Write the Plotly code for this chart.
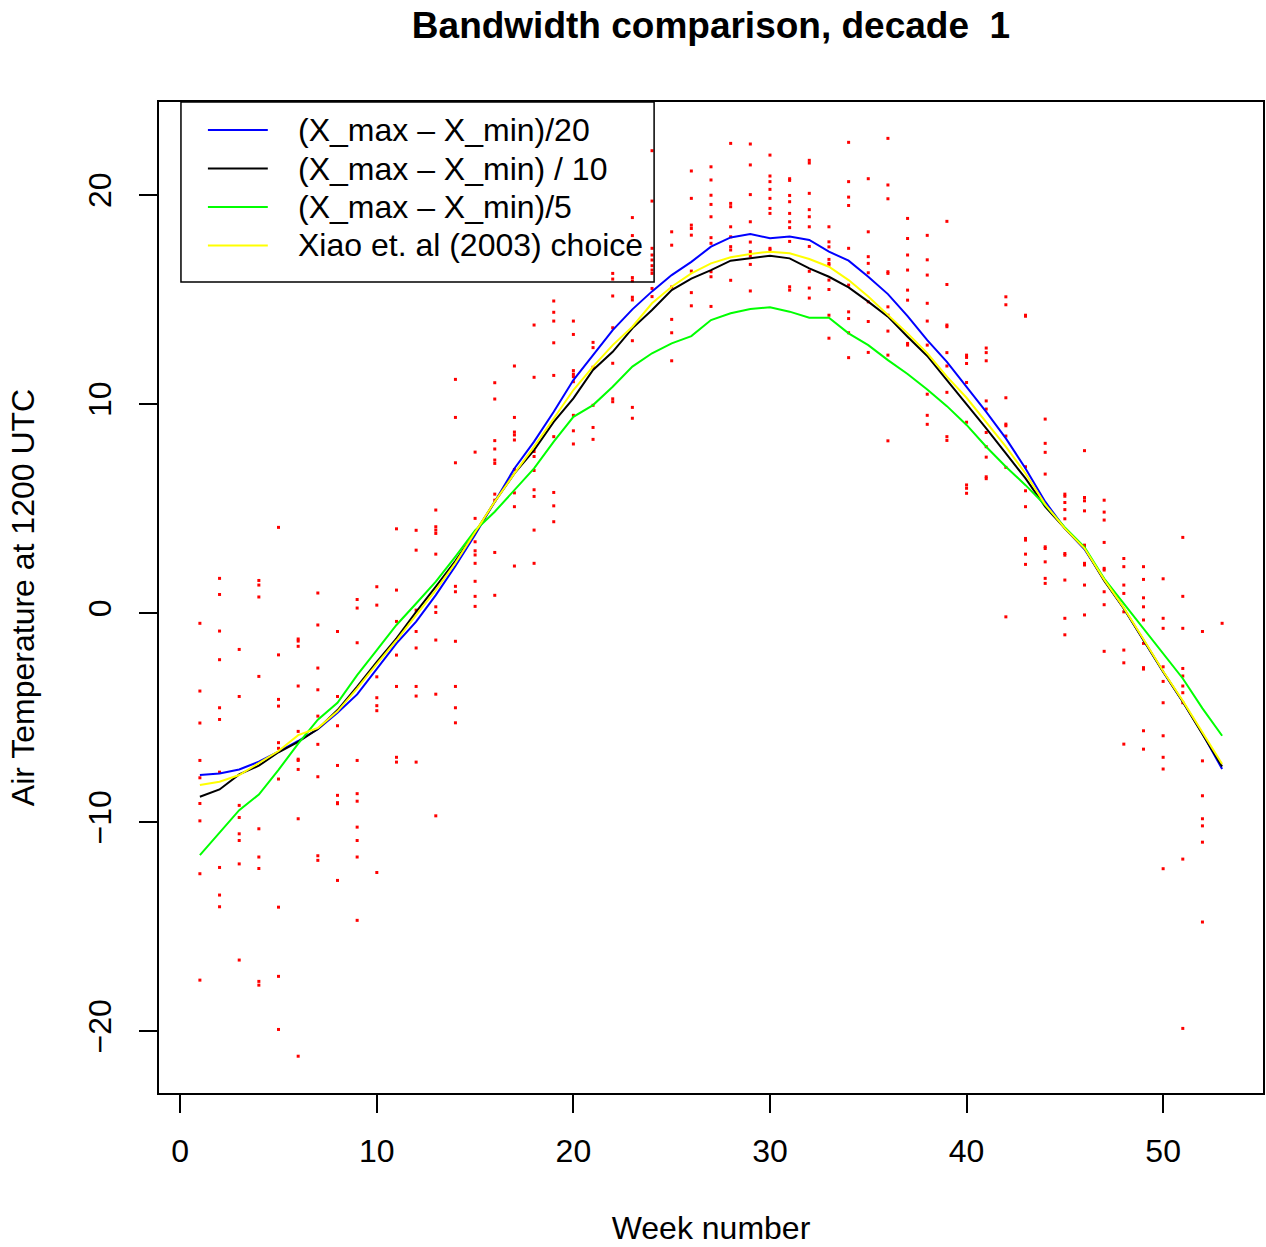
import plotly.graph_objects as go

weeks = list(range(1, 54))

bw_20 = [-7.75, -7.67, -7.48, -7.11, -6.63, -6.12, -5.55, -4.77, -3.89, -2.65,
         -1.45, -0.41, 0.86, 2.25, 3.75, 5.33, 6.92, 8.2, 9.63, 11.15,
         12.34, 13.54, 14.53, 15.39, 16.17, 16.8, 17.53, 17.97, 18.13, 17.93,
         18.01, 17.85, 17.29, 16.86, 16.09, 15.26, 14.21, 13.06, 12.02, 10.85,
         9.63, 8.36, 6.92, 5.33, 4.05, 3.05, 1.6, 0.22, -1.29, -2.81,
         -4.24, -5.76, -7.46]
bw_10 = [-8.79, -8.44, -7.72, -7.3, -6.66, -6.16, -5.55, -4.64, -3.52, -2.33,
         -1.21, 0.06, 1.26, 2.5, 3.85, 5.33, 6.68, 7.8, 9.15, 10.27,
         11.63, 12.5, 13.62, 14.5, 15.45, 16.0, 16.41, 16.86, 16.97, 17.1,
         16.97, 16.49, 16.09, 15.58, 14.9, 14.18, 13.22, 12.3, 11.15, 10.0,
         8.84, 7.64, 6.44, 5.09, 4.05, 3.1, 1.55, 0.22, -1.29, -2.81,
         -4.24, -5.76, -7.34]
bw_5 = [-11.58, -10.5, -9.43, -8.68, -7.5, -6.25, -5.1, -4.29, -2.97, -1.77,
        -0.57, 0.46, 1.5, 2.7, 3.95, 4.85, 5.89, 6.92, 8.2, 9.39,
        9.95, 10.83, 11.79, 12.43, 12.9, 13.25, 14.02, 14.34, 14.55, 14.63,
        14.42, 14.13, 14.13, 13.38, 12.82, 12.1, 11.44, 10.7, 9.9, 9.0,
        7.96, 7.0, 6.12, 5.17, 4.1, 3.15, 1.65, 0.46, -0.73, -1.93,
        -3.13, -4.56, -5.87]
bw_xiao = [-8.23, -8.07, -7.75, -7.19, -6.6, -5.84, -5.5, -4.7, -3.6, -2.43,
           -1.3, -0.1, 1.1, 2.4, 3.85, 5.33, 6.68, 7.96, 9.31, 10.67,
           11.79, 12.82, 13.7, 14.82, 15.61, 16.25, 16.73, 17.02, 17.18, 17.29,
           17.21, 16.94, 16.57, 15.93, 15.14, 14.26, 13.38, 12.43, 11.31, 10.3,
           9.15, 7.96, 6.68, 5.2, 4.05, 3.1, 1.6, 0.25, -1.25, -2.78,
           -4.2, -5.7, -7.22]

obs_w01 = [-0.49, -3.73, -5.26, -7.05, -7.88, -9.11, -9.94, -12.47, -17.56]
obs_w02 = [1.66, 0.89, -0.86, -2.23, -4.53, -5.09, -7.61, -12.17, -13.49, -14.05]
obs_w03 = [-1.74, -3.99, -9.2, -9.78, -10.56, -10.88, -12.0, -16.6]
obs_w04 = [1.56, 1.34, 0.77, -3.03, -10.32, -11.67, -12.22, -17.62, -17.8]
obs_w05 = [4.1, -2.0, -4.13, -4.45, -6.2, -6.47, -7.94, -14.07, -17.38, -19.92]
obs_w06 = [-1.24, -1.34, -1.59, -3.49, -5.66, -6.99, -7.05, -7.48, -9.84, -21.2]
obs_w07 = [0.96, -0.57, -2.63, -3.67, -4.93, -6.28, -7.83, -11.61, -11.83]
obs_w08 = [-0.88, -3.99, -5.39, -7.29, -8.72, -9.07, -9.12, -12.79]
obs_w09 = [0.65, 0.24, -1.42, -7.05, -8.64, -9.0, -10.24, -10.88, -11.67, -14.7]
obs_w10 = [1.26, 0.38, -3.05, -4.05, -4.43, -4.67, -12.41]
obs_w11 = [4.03, 1.1, -0.4, -1.26, -2.01, -3.51, -6.9, -7.13]
obs_w12 = [3.96, 3.01, 0.14, -0.88, -1.67, -3.51, -3.97, -7.13]
obs_w13 = [4.93, 4.13, 3.97, 3.81, 2.82, 0.3, 0.03, -1.29, -3.88, -9.7]
obs_w14 = [11.18, 9.36, 7.19, 1.28, 1.02, -1.35, -3.51, -4.53, -5.25]
obs_w15 = [7.7, 4.53, 3.41, 2.98, 2.78, 2.38, 1.52, 0.8, 0.32]
obs_w16 = [11.02, 10.24, 8.25, 7.85, 7.32, 7.16, 5.69, 5.4, 2.9, 0.85]
obs_w17 = [11.82, 9.36, 8.66, 8.52, 8.28, 6.87, 5.75, 5.09, 2.25]
obs_w18 = [13.78, 11.28, 7.73, 7.49, 6.82, 5.9, 5.58, 3.97, 2.38]
obs_w19 = [14.93, 14.39, 13.97, 12.93, 11.37, 8.44, 5.77, 5.13, 4.37]
obs_w20 = [13.97, 13.33, 11.6, 11.43, 11.31, 11.07, 9.46, 8.72, 8.09]
obs_w21 = [12.95, 12.7, 11.76, 9.94, 8.88, 8.31]
obs_w22 = [16.25, 15.98, 15.17, 13.65, 11.95, 10.25, 10.11]
obs_w23 = [18.92, 18.06, 16.05, 15.89, 15.11, 14.98, 13.03, 9.84, 9.32]
obs_w24 = [22.12, 19.71, 17.45, 17.13, 16.89, 16.62, 16.41, 16.25, 15.53, 15.14]
obs_w25 = [18.24, 17.6, 15.6, 14.05, 13.41, 12.07]
obs_w26 = [21.15, 19.84, 18.56, 18.4, 18.08, 16.36, 15.33, 14.7]
obs_w27 = [21.35, 20.72, 19.99, 19.55, 18.96, 17.96, 17.69, 16.33, 16.09, 14.67]
obs_w28 = [22.47, 19.6, 19.44, 18.48, 18.0, 17.53, 17.37, 15.92]
obs_w29 = [22.44, 21.44, 20.02, 18.72, 17.75, 17.29, 17.08, 16.68, 15.41]
obs_w30 = [21.91, 20.91, 20.64, 20.27, 19.84, 19.36, 19.12, 17.45, 17.37]
obs_w31 = [20.78, 20.7, 19.98, 19.68, 19.12, 18.72, 18.44, 17.78, 15.61, 15.45]
obs_w32 = [21.66, 21.53, 20.08, 19.3, 18.96, 18.48, 17.54, 16.35, 15.55, 15.07]
obs_w33 = [18.48, 17.76, 17.52, 16.92, 16.73, 16.65, 15.93, 15.48, 14.25, 13.15]
obs_w34 = [22.52, 20.64, 19.9, 19.5, 17.45, 15.69, 14.41, 14.09, 13.41, 12.22]
obs_w35 = [20.78, 18.24, 17.05, 16.73, 16.28, 14.89, 13.95, 12.47]
obs_w36 = [22.71, 20.48, 19.82, 16.33, 16.25, 14.65, 14.25, 13.49, 12.34, 8.24]
obs_w37 = [18.88, 17.92, 17.13, 16.41, 15.45, 14.97, 12.9, 12.82]
obs_w38 = [18.07, 16.9, 16.17, 14.82, 13.97, 12.82, 10.47, 9.46, 9.03]
obs_w39 = [18.74, 15.72, 13.78, 13.7, 12.46, 11.82, 10.56, 8.44, 8.26]
obs_w40 = [12.34, 12.23, 11.94, 11.03, 9.13, 6.13, 5.97, 5.73]
obs_w41 = [12.68, 12.46, 12.07, 10.15, 9.76, 8.64, 7.96, 7.46, 6.52, 6.43]
obs_w42 = [15.13, 14.75, 10.3, 9.04, 8.96, 8.47, 6.97, -0.18]
obs_w43 = [14.25, 14.2, 7.0, 5.85, 5.09, 3.57, 3.49, 2.82, 2.33]
obs_w44 = [9.28, 8.12, 7.69, 6.65, 3.17, 3.09, 2.45, 1.66, 1.42]
obs_w45 = [5.69, 5.59, 5.29, 4.95, 4.51, 2.85, 2.77, 1.58, -0.25, -1.04]
obs_w46 = [7.77, 5.53, 5.37, 4.89, 3.25, 3.17, 2.38, 2.3, 1.34, -0.09]
obs_w47 = [5.4, 4.83, 4.45, 3.38, 2.14, 2.06, 1.02, 0.4, -1.83]
obs_w48 = [2.61, 2.22, 1.34, 0.94, 0.06, -1.77, -2.38, -6.27]
obs_w49 = [2.22, 1.61, 0.73, 0.3, -0.33, -1.45, -2.61, -2.68, -5.63, -6.51]
obs_w50 = [1.64, -0.25, -0.73, -2.57, -3.27, -4.29, -5.87, -6.9, -7.46, -12.23]
obs_w51 = [3.62, 0.8, -0.73, -2.65, -3.01, -3.49, -3.81, -4.29, -11.77, -19.87]
obs_w52 = [-0.88, -7.07, -8.74, -9.84, -10.18, -10.96, -14.78]
obs_w53 = [-0.49]

obs_by_week = [obs_w01, obs_w02, obs_w03, obs_w04, obs_w05, obs_w06, obs_w07, obs_w08,
               obs_w09, obs_w10, obs_w11, obs_w12, obs_w13, obs_w14, obs_w15, obs_w16,
               obs_w17, obs_w18, obs_w19, obs_w20, obs_w21, obs_w22, obs_w23, obs_w24,
               obs_w25, obs_w26, obs_w27, obs_w28, obs_w29, obs_w30, obs_w31, obs_w32,
               obs_w33, obs_w34, obs_w35, obs_w36, obs_w37, obs_w38, obs_w39, obs_w40,
               obs_w41, obs_w42, obs_w43, obs_w44, obs_w45, obs_w46, obs_w47, obs_w48,
               obs_w49, obs_w50, obs_w51, obs_w52, obs_w53]

series_names = ["(X_max \u2013 X_min)/20", "(X_max \u2013 X_min) / 10",
                "(X_max \u2013 X_min)/5", "Xiao et. al (2003) choice"]
series_values = [bw_20, bw_10, bw_5, bw_xiao]
series_colors = ["#0000FF", "#000000", "#00FF00", "#FFFF00"]

x_ticks = [0, 10, 20, 30, 40, 50]
y_ticks = [-20, -10, 0, 10, 20]


def tick_text(v):
    return str(v).replace("-", "\u2212")


obs_x = []
obs_y = []
for w, vals in zip(weeks, obs_by_week):
    obs_x.extend([w] * len(vals))
    obs_y.extend(vals)

FONT = "Liberation Sans, Arial, Helvetica, sans-serif"

# plot-area geometry in pixels (for the R-style legend box)
W, H = 1266, 1247
L, R, T, B = 159, 1, 102, 154
PW, PH = W - L - R, H - T - B


def px_x(p):
    return (p - L) / PW


def px_y(p):
    return (H - B - p) / PH


fig = go.Figure()
fig.add_trace(go.Scatter(x=obs_x, y=obs_y, mode="markers", showlegend=False,
                         name="observations",
                         marker=dict(symbol="square", size=3, color="#FF0000",
                                     line=dict(width=0)),
                         hoverinfo="x+y"))
for name, vals, col in zip(series_names, series_values, series_colors):
    fig.add_trace(go.Scatter(x=weeks, y=vals, mode="lines", name=name,
                             showlegend=False, line=dict(color=col, width=2)))

# R-style legend: box, line samples and labels
shapes = [dict(type="rect", xref="paper", yref="paper",
               x0=px_x(181), x1=px_x(655), y0=px_y(282), y1=px_y(102),
               line=dict(color="black", width=1.5), fillcolor="rgba(0,0,0,0)")]
annotations = []
row_y = [130, 168.5, 207, 245.5]
for name, col, ry in zip(series_names, series_colors, row_y):
    shapes.append(dict(type="line", xref="paper", yref="paper",
                       x0=px_x(208), x1=px_x(268), y0=px_y(ry), y1=px_y(ry),
                       line=dict(color=col, width=2)))
    annotations.append(dict(text=name, xref="paper", yref="paper",
                            x=px_x(296), y=px_y(ry), xanchor="left", yanchor="middle",
                            showarrow=False, font=dict(size=32, family=FONT, color="black")))

fig.update_layout(
    width=W, height=H,
    margin=dict(l=L, r=R, t=T, b=B, pad=0),
    paper_bgcolor="white", plot_bgcolor="white",
    font=dict(family=FONT, size=32, color="black"),
    title=dict(text="<b>Bandwidth comparison, decade\u00a0 1</b>",
               x=0.5, xref="paper", xanchor="center",
               y=1 - 25 / H, yref="container", yanchor="middle",
               font=dict(size=37, family=FONT, color="black")),
    showlegend=False,
    shapes=shapes,
    annotations=annotations,
    xaxis=dict(range=[-1.08, 55.08], tickvals=x_ticks, ticktext=[tick_text(v) for v in x_ticks],
               showgrid=False, zeroline=False, showline=True, mirror=True,
               linecolor="black", linewidth=1.5, ticks="outside", ticklen=18,
               tickwidth=1.5, tickcolor="black", ticklabelstandoff=11,
               tickfont=dict(size=32),
               title=dict(text="Week number", standoff=48, font=dict(size=32))),
    yaxis=dict(range=[-22.96, 24.45], tickvals=y_ticks, ticktext=[tick_text(v) for v in y_ticks],
               showgrid=False, zeroline=False, showline=True, mirror=True,
               linecolor="black", linewidth=1.5, ticks="outside", ticklen=18,
               tickwidth=1.5, tickcolor="black", tickangle=-90, ticklabelstandoff=15,
               tickfont=dict(size=32),
               title=dict(text="Air Temperature at 1200 UTC", standoff=38, font=dict(size=32))),
)

fig.write_html("out.html")
